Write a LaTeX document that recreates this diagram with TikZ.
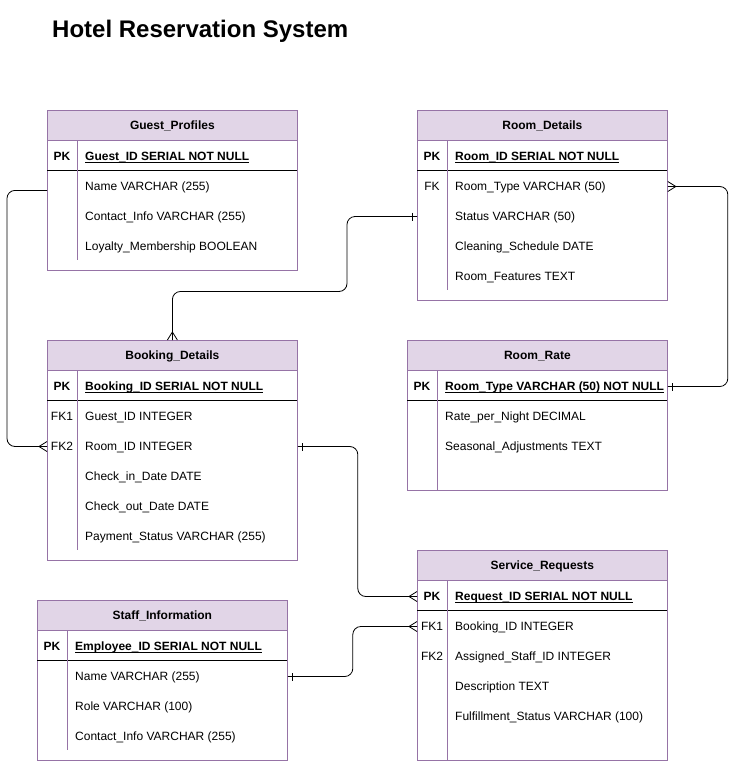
\documentclass[tikz,border=0pt]{standalone}
\usepackage{fontspec}
\setmainfont{Liberation Sans}

\definecolor{erfill}{HTML}{E1D5E7}
\definecolor{erline}{HTML}{9673A6}

% crow's foot (many) and single bar (one) ends
\pgfdeclarearrow{
    name=crow,
    setup code={
        \pgfarrowssettipend{0pt}
        \pgfarrowssetlineend{0pt}
        \pgfarrowssetbackend{-8pt}
        \pgfarrowssetvisualbackend{-8pt}
        \pgfarrowshullpoint{0pt}{5pt}
        \pgfarrowshullpoint{0pt}{-5pt}
        \pgfarrowshullpoint{-8pt}{0pt}
    },
    drawing code={
        \pgfpathmoveto{\pgfpoint{0pt}{5pt}}
        \pgfpathlineto{\pgfpoint{-8pt}{0pt}}
        \pgfpathlineto{\pgfpoint{0pt}{-5pt}}
        \pgfusepathqstroke
    }
}
\pgfdeclarearrow{
    name=onebar,
    setup code={
        \pgfarrowssettipend{0pt}
        \pgfarrowssetlineend{0pt}
        \pgfarrowssetbackend{-6pt}
        \pgfarrowssetvisualbackend{-6pt}
        \pgfarrowshullpoint{0pt}{4pt}
        \pgfarrowshullpoint{-6pt}{4pt}
        \pgfarrowshullpoint{-6pt}{-4pt}
        \pgfarrowshullpoint{0pt}{-4pt}
    },
    drawing code={
        \pgfpathmoveto{\pgfpoint{-5pt}{4pt}}
        \pgfpathlineto{\pgfpoint{-5pt}{-4pt}}
        \pgfusepathqstroke
    }
}

\newcommand{\ulkey}[1]{\underline{\smash{#1}}}

\begin{document}
\begin{tikzpicture}[
        x=1pt, y=-1pt,
        tbody/.style={
            draw=erline,
            fill=white,
            line width=0.8pt,
            minimum width=250pt,
            anchor=north west,
            inner sep=0pt
        },
        thead/.style={
            draw=erline,
            fill=erfill,
            line width=0.8pt,
            minimum width=250pt,
            minimum height=30pt,
            anchor=north west,
            inner sep=0pt,
            text height=8.6pt,
            text depth=0pt,
            font=\fontsize{12}{14}\selectfont\bfseries
        },
        field/.style={
            anchor=west,
            inner sep=0pt,
            yshift=-1.5pt,
            text height=8.6pt,
            text depth=0pt,
            font=\fontsize{12}{14}\selectfont
        },
        pkfield/.style={
            field,
            font=\fontsize{12}{14}\selectfont\bfseries
        },
        keylabel/.style={
            inner sep=0pt,
            yshift=-1.5pt,
            text height=8.6pt,
            text depth=0pt,
            font=\fontsize{12}{14}\selectfont
        },
        pklabel/.style={
            keylabel,
            font=\fontsize{12}{14}\selectfont\bfseries
        },
        divider/.style={
            draw=erline,
            line width=0.8pt
        },
        pkline/.style={
            draw=black,
            line width=0.8pt
        },
        relation/.style={
            draw=black,
            line width=0.8pt,
            rounded corners=8pt
        }
    ]
        \useasboundingbox (0,0) rectangle (737,761);

        % Title
        \node[anchor=base west, inner sep=0pt, font=\fontsize{24}{28}\selectfont\bfseries] (title) at (52,37.5) {Hotel Reservation System};

        % ============== Guest_Profiles ==============
        \node[tbody, minimum height=160pt] (guest) at (47,110) {};
        \node[thead] (guestH) at (47,110) {Guest\_Profiles};
        \draw[pkline] (47,170) -- (297,170);
        \draw[divider] (77,140) -- (77,260);
        \node[pklabel] (gPK) at (62,155) {PK};
        \node[pkfield] (gID) at (85,155) {\ulkey{Guest\_ID SERIAL NOT NULL}};
        \foreach \y/\n/\t in {185/gName/Name VARCHAR (255),
                              215/gContact/Contact\_Info VARCHAR (255),
                              245/gLoyal/Loyalty\_Membership BOOLEAN}
            \node[field] (\n) at (85,\y) {\t};

        % ============== Room_Details ==============
        \node[tbody, minimum height=190pt] (rd) at (417,110) {};
        \node[thead] (rdH) at (417,110) {Room\_Details};
        \draw[pkline] (417,170) -- (667,170);
        \draw[divider] (447,140) -- (447,290);
        \node[pklabel] (rdPK) at (432,155) {PK};
        \node[pkfield] (rdID) at (455,155) {\ulkey{Room\_ID SERIAL NOT NULL}};
        \node[keylabel] (rdFK) at (432,185) {FK};
        \foreach \y/\n/\t in {185/rdType/Room\_Type VARCHAR (50),
                              215/rdStatus/Status VARCHAR (50),
                              245/rdClean/Cleaning\_Schedule DATE,
                              275/rdFeat/Room\_Features TEXT}
            \node[field] (\n) at (455,\y) {\t};

        % ============== Booking_Details ==============
        \node[tbody, minimum height=220pt] (book) at (47,340) {};
        \node[thead] (bookH) at (47,340) {Booking\_Details};
        \draw[pkline] (47,400) -- (297,400);
        \draw[divider] (77,370) -- (77,550);
        \node[pklabel] (bPK) at (62,385) {PK};
        \node[pkfield] (bID) at (85,385) {\ulkey{Booking\_ID SERIAL NOT NULL}};
        \node[keylabel] (bFK1) at (62,415) {FK1};
        \node[keylabel] (bFK2) at (62,445) {FK2};
        \foreach \y/\n/\t in {415/bGuest/Guest\_ID INTEGER,
                              445/bRoom/Room\_ID INTEGER,
                              475/bIn/Check\_in\_Date DATE,
                              505/bOut/Check\_out\_Date DATE,
                              535/bPay/Payment\_Status VARCHAR (255)}
            \node[field] (\n) at (85,\y) {\t};

        % ============== Room_Rate ==============
        \node[tbody, minimum width=260pt, minimum height=150pt] (rr) at (407,340) {};
        \node[thead, minimum width=260pt] (rrH) at (407,340) {Room\_Rate};
        \draw[pkline] (407,400) -- (667,400);
        \draw[divider] (437,370) -- (437,490);
        \node[pklabel] (rrPK) at (422,385) {PK};
        \node[pkfield] (rrType) at (445,385) {\ulkey{Room\_Type VARCHAR (50) NOT NULL}};
        \foreach \y/\n/\t in {415/rrRate/Rate\_per\_Night DECIMAL,
                              445/rrSeason/Seasonal\_Adjustments TEXT}
            \node[field] (\n) at (445,\y) {\t};

        % ============== Service_Requests ==============
        \node[tbody, minimum height=210pt] (sr) at (417,550) {};
        \node[thead] (srH) at (417,550) {Service\_Requests};
        \draw[pkline] (417,610) -- (667,610);
        \draw[divider] (447,580) -- (447,760);
        \node[pklabel] (srPK) at (432,595) {PK};
        \node[pkfield] (srID) at (455,595) {\ulkey{Request\_ID SERIAL NOT NULL}};
        \node[keylabel] (srFK1) at (432,625) {FK1};
        \node[keylabel] (srFK2) at (432,655) {FK2};
        \foreach \y/\n/\t in {625/srBook/Booking\_ID INTEGER,
                              655/srStaff/Assigned\_Staff\_ID INTEGER,
                              685/srDesc/Description TEXT,
                              715/srStat/Fulfillment\_Status VARCHAR (100)}
            \node[field] (\n) at (455,\y) {\t};

        % ============== Staff_Information ==============
        \node[tbody, minimum height=160pt] (staff) at (37,600) {};
        \node[thead] (staffH) at (37,600) {Staff\_Information};
        \draw[pkline] (37,660) -- (287,660);
        \draw[divider] (67,630) -- (67,750);
        \node[pklabel] (sPK) at (52,645) {PK};
        \node[pkfield] (sID) at (75,645) {\ulkey{Employee\_ID SERIAL NOT NULL}};
        \foreach \y/\n/\t in {675/sName/Name VARCHAR (255),
                              705/sRole/Role VARCHAR (100),
                              735/sContact/Contact\_Info VARCHAR (255)}
            \node[field] (\n) at (75,\y) {\t};

        % ============== Relations ==============
        \draw[relation, -{crow}] (guest.west) -- ++(-40,0) |- (book.west |- bFK2);
        \draw[relation, {onebar}-{crow}] (rd.west |- rdStatus) -- ++(-70,0) -- ++(0,75) -| (bookH.north);
        \draw[relation, {crow}-{onebar}] (rd.east |- rdFK) -- ++(60,0) |- (rr.east |- rrPK);
        \draw[relation, {onebar}-{crow}] (book.east |- bFK2) -- ++(60,0) |- (sr.west |- srPK);
        \draw[relation, {onebar}-{crow}] (staff.east |- sName) -- ++(65,0) |- (sr.west |- srFK1);
    \end{tikzpicture}
\end{document}
